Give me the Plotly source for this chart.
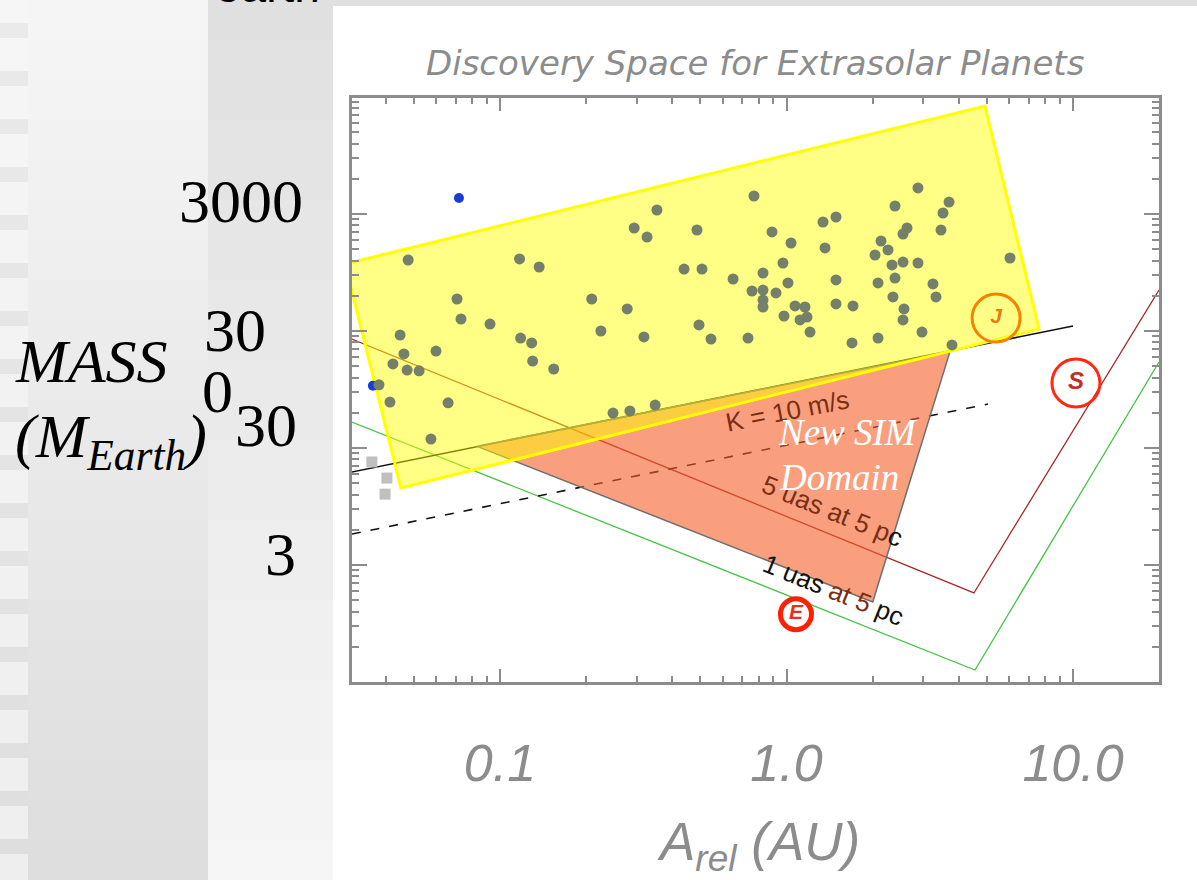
import plotly.graph_objects as go

# ---------------- data ----------------
# known extrasolar planets: semi-major axis (AU) and mass (M_Earth)
known_a = [0.0478, 0.117, 0.137, 0.0708, 0.0731, 0.0923, 0.0448, 0.0598, 0.0462, 0.0423,
           0.0474, 0.0522, 0.0378, 0.0413, 0.0659, 0.0574, 0.118, 0.129, 0.130, 0.154,
           0.209, 0.225, 0.278, 0.294, 0.326, 0.353, 0.318, 0.248, 0.284, 0.348,
           0.487, 0.439, 0.507, 0.495, 0.545, 0.651, 0.734, 0.770, 0.758, 0.828,
           0.828, 0.919, 0.828, 0.828, 0.890, 1.037, 0.972, 1.012, 0.980, 1.071,
           1.160, 1.115, 1.179, 1.208, 1.341, 1.489, 1.363, 1.489, 1.489, 1.707,
           1.693, 2.087, 2.087, 2.037, 2.137, 2.261, 2.335, 2.551, 2.877, 2.392,
           2.353, 2.571, 2.551, 2.971, 2.392, 2.877, 2.634, 2.551, 3.462, 3.692,
           3.518, 3.245, 3.325, 6.027, 3.782]
known_m = [1213, 1238, 1057, 563, 380, 344, 277, 202, 191, 157,
           139, 137, 104, 74, 73, 35.8, 261, 237, 166, 142,
           563, 300, 463, 2278, 1907, 3246, 267, 59.7, 62.2, 69.9,
           2190, 1016, 1016, 338, 256, 835, 261, 4276, 659, 939,
           672, 634, 552, 481, 2106, 1695, 1144, 772, 403, 491,
           481, 373, 395, 294, 2563, 2828, 1537, 819, 511, 491,
           237, 772, 261, 1339, 1763, 1478, 1100, 1166, 1144, 851,
           586, 463, 373, 294, 3512, 5006, 2278, 2024, 2190, 3798,
           3059, 757, 586, 1262, 228]
blue_a = [0.0719, 0.0360]
blue_m = [4110, 102]
square_a = [0.0357, 0.0403, 0.0397]
square_m = [22.8, 16.6, 12.1]

# detection limits
k10_a = [0.0304, 10.0]
k10_m = [18.7, 331]
k3_a = [0.0304, 5.05]
k3_m = [5.52, 71.3]
ast5_a = [0.0304, 4.51, 19.96]
ast5_m = [256, 1.73, 672]
ast1_a = [0.0304, 4.55, 19.96]
ast1_m = [50.0, 0.38, 163]

# regions
sim_a = [0.0831, 3.72, 2.00]
sim_m = [31, 200, 1.45]
box_a = [0.0288, 4.93, 7.61, 0.0451]
box_m = [1121, 25130, 312, 13.65]

# solar-system planets
planet_names = ["J", "S", "E"]
planet_a = [5.39, 10.24, 1.079]
planet_m = [387, 108, 1.14]

# ticks / labels
x_tickvals = [0.1, 1, 10]
x_ticktext = ["0.1", "1.0", "10.0"]
y_tickvals = [3, 30, 300, 3000]
slide_y_labels = ["3000", "30", "0", "30", "3"]

# ---------------- geometry helpers ----------------
W, H = 1197, 880
ML, MR, MT, MB = 352, 38, 98, 198
PW, PH = W - ML - MR, H - MT - MB


def px(x):
    return (x - ML) / PW


def py(y):
    return (H - MB - y) / PH


GRAY = "#8c8c8c"
SANS = "Liberation Sans, Arial, sans-serif"
WIDE = "DejaVu Sans, Liberation Sans, sans-serif"
SERIF = "Liberation Serif, Times New Roman, serif"

fig = go.Figure()

# limit lines (drawn under the shaded regions)
fig.add_trace(go.Scatter(x=ast1_a, y=ast1_m, mode="lines",
                         line=dict(color="#45c445", width=1.3), hoverinfo="skip"))
fig.add_trace(go.Scatter(x=ast5_a, y=ast5_m, mode="lines",
                         line=dict(color="#a82828", width=1.3), hoverinfo="skip"))
fig.add_trace(go.Scatter(x=k3_a, y=k3_m, mode="lines",
                         line=dict(color="#111111", width=1.6, dash="9px,10px"), hoverinfo="skip"))
fig.add_trace(go.Scatter(x=k10_a, y=k10_m, mode="lines",
                         line=dict(color="#111111", width=1.6), hoverinfo="skip"))

# New SIM domain triangle
fig.add_trace(go.Scatter(x=sim_a + sim_a[:1], y=sim_m + sim_m[:1], mode="lines",
                         fill="toself", fillcolor="rgba(245,95,40,0.6)",
                         line=dict(color="#6e6e6e", width=1.5), hoverinfo="skip"))
# known-planet box
fig.add_trace(go.Scatter(x=box_a + box_a[:1], y=box_m + box_m[:1], mode="lines",
                         fill="toself", fillcolor="rgba(255,255,0,0.48)",
                         line=dict(color="#ffff00", width=3), hoverinfo="skip"))

# markers
fig.add_trace(go.Scatter(x=square_a, y=square_m, mode="markers",
                         marker=dict(symbol="square", size=11, color="#c0c0c0"),
                         cliponaxis=False))
fig.add_trace(go.Scatter(x=blue_a, y=blue_m, mode="markers",
                         marker=dict(size=10, color="#1b3cd4")))
fig.add_trace(go.Scatter(x=known_a, y=known_m, mode="markers",
                         marker=dict(size=11, color="#74806a")))

# solar-system planets: one trace each, ring + letter
ring_color = ["#f58200", "#ff2a10", "#ff2000"]
ring_size = [48, 48, 31]
ring_width = [3, 3, 5]
letter_color = ["#e87a10", "#c0302a", "#e8301c"]
letter_size = [21, 24, 21]
for i in range(len(planet_names)):
    fig.add_trace(go.Scatter(
        x=[planet_a[i]], y=[planet_m[i]], mode="markers",
        marker=dict(symbol="circle-open", size=ring_size[i], opacity=1,
                    color=ring_color[i], line=dict(color=ring_color[i], width=ring_width[i])),
        cliponaxis=False, hoverinfo="skip"))
    fig.add_trace(go.Scatter(
        x=[planet_a[i]], y=[planet_m[i]], mode="text", text=[planet_names[i]],
        textposition="middle center",
        textfont=dict(family=SANS, size=letter_size[i], color=letter_color[i],
                      style="italic", weight="bold"),
        cliponaxis=False, hoverinfo="skip"))

# ---------------- axes ----------------
x_minor = [k * 10 ** n for n in (-2, -1, 0, 1) for k in range(2, 10) if 0.031 < k * 10 ** n < 19.5]
y_minor = [3 * k * 10 ** n for n in range(-1, 4) for k in range(2, 10) if 0.31 < 3 * k * 10 ** n < 29000]

fig.update_xaxes(type="log", range=[-1.5166, 1.3002], showgrid=False, zeroline=False,
                 showline=True, linecolor=GRAY, linewidth=3, mirror="allticks",
                 ticks="inside", ticklen=13, tickwidth=2, tickcolor=GRAY,
                 tickmode="array", tickvals=x_tickvals, ticktext=x_ticktext,
                 tickfont=dict(family=SANS, size=52, color=GRAY, style="italic"),
                 ticklabelstandoff=34,
                 minor=dict(tickmode="array", tickvals=x_minor, ticks="inside",
                            ticklen=6, tickwidth=2, tickcolor=GRAY, showgrid=False))
fig.update_yaxes(type="log", range=[-0.5229, 4.4686], showgrid=False, zeroline=False,
                 showline=True, linecolor=GRAY, linewidth=3, mirror="allticks",
                 ticks="inside", ticklen=15, tickwidth=2, tickcolor=GRAY,
                 tickmode="array", tickvals=y_tickvals, showticklabels=False,
                 minor=dict(tickmode="array", tickvals=y_minor, ticks="inside",
                            ticklen=7, tickwidth=2, tickcolor=GRAY, showgrid=False))

# ---------------- background of the slide ----------------
shapes = []


def rect(x0, y0, x1, y1, color):
    shapes.append(dict(type="rect", xref="paper", yref="paper",
                       x0=px(x0), x1=px(x1), y0=py(y1), y1=py(y0),
                       fillcolor=color, line=dict(width=0), layer="below"))


def g(v):
    v = int(round(v))
    return f"rgb({v},{v},{v})"


nb = 22
for i in range(nb):
    y0 = i * H / nb
    y1 = (i + 1) * H / nb + 1
    t = (i + 0.5) / nb
    rect(0, y0, 28, y1, g(234 - 12 * t))
    rect(28, y0, 208, y1, g(246 - 25 * t))
    rect(208, y0, 333, y1, g(224 + 22 * t))
for k in range(0, 19):
    y0 = -10 + 48 * k
    t = max(0.0, min(1.0, (y0 + 16) / H))
    rect(0, y0, 28, y0 + 33, g(246 - 8 * t))
rect(333, 0, W, 6, g(224))

# ---------------- text ----------------
ann = []


def add_text(x, y, text, size, color, family=SANS, xanchor="center", yanchor="middle",
             angle=0, italic=False):
    ann.append(dict(x=px(x), y=py(y), xref="paper", yref="paper", text=text,
                    showarrow=False, xanchor=xanchor, yanchor=yanchor, textangle=angle,
                    font=dict(family=family, size=size, color=color,
                              style="italic" if italic else "normal")))


add_text(755, 63, "Discovery Space for Extrasolar Planets", 34, GRAY, family=WIDE, italic=True)
add_text(758, 845, "A<sub>rel</sub> (AU)", 53, GRAY, italic=True)

# slide overlay labels
label_pos = [(177, 201), (202, 330), (200, 391), (233, 425), (263, 554)]
for (lx, ly), lab in zip(label_pos, slide_y_labels):
    add_text(lx, ly, lab, 62, "#000000", family=SERIF, xanchor="left")
add_text(13, 361, "MASS", 62, "#000000", family=SERIF, xanchor="left", italic=True)
add_text(13, 440, "(M<sub>Earth</sub>)", 62, "#000000", family=SERIF, xanchor="left", italic=True)
add_text(213, 14, "earth", 46, "#000000", xanchor="left", yanchor="bottom")

BROWN = "#7a2e14"
add_text(787, 411, "K = 10 m/s", 26, BROWN, angle=-11)
add_text(832, 511, "5 uas at 5 p<span style='color:#111111'>c</span>", 26, BROWN, angle=22)
add_text(833, 590, "<span style='color:#111111'>1 uas </span>at 5<span style='color:#111111'> pc</span>",
         26, BROWN, angle=22)
add_text(848, 432, "New SIM", 37, "#ffffff", family=SERIF, italic=True)
add_text(839, 478, "Domain", 37, "#ffffff", family=SERIF, italic=True)

fig.update_layout(width=W, height=H, margin=dict(l=ML, r=MR, t=MT, b=MB, pad=0),
                  paper_bgcolor="#ffffff", plot_bgcolor="#ffffff", showlegend=False,
                  shapes=shapes, annotations=ann)

fig.write_html("out.html")
